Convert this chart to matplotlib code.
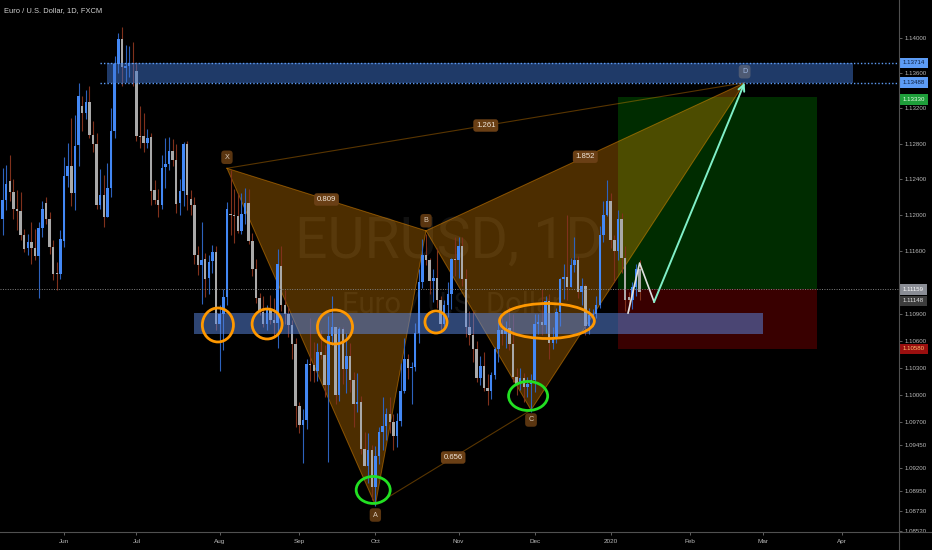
import numpy as np
import pandas as pd
import matplotlib
matplotlib.use('Agg')
import matplotlib.pyplot as plt
from matplotlib.patches import Rectangle, Polygon, Ellipse
from matplotlib.lines import Line2D
from matplotlib.ticker import FixedLocator, NullLocator, FixedFormatter

# ---------------- data ----------------
start_date = '2019-05-09'
holidays = ['2019-12-25', '2020-01-01']

opens = [
 1.1195,1.1217,1.1238,1.1226,1.1207,1.1204,1.1177,1.1163,1.1170,1.1163,1.1154,1.1185,1.1213,1.1195,1.1164,1.1135,1.1134,
 1.1171,1.1244,1.1255,1.1224,1.1278,1.1323,1.1314,1.1327,1.1290,1.1280,1.1211,1.1222,1.1197,1.1230,1.1294,1.1370,1.1399,1.1366,1.1368,1.1371,
 1.1362,1.1289,1.1288,1.1281,1.1287,1.1228,1.1217,1.1211,1.1254,1.1257,1.1272,1.1261,1.1213,1.1227,1.1279,1.1218,1.1211,1.1155,1.1144,1.1151,1.1130,1.1148,1.1158,
 1.1078,1.1089,1.1108,1.1201,1.1200,1.1199,1.1182,1.1201,1.1213,1.1171,1.1140,1.1107,1.1092,1.1078,1.1095,1.1083,1.1080,1.1143,1.1100,1.1089,1.1077,1.1056,
 1.0988,1.0967,1.0973,1.1034,1.1033,1.1027,1.1047,1.1044,1.1011,1.1065,1.1075,1.1000,1.1073,1.1029,1.1043,1.1017,1.0990,1.0993,1.0941,1.0922,1.0940,
 1.0899,1.0933,1.0960,1.0966,1.0979,1.0971,1.0955,1.0972,1.1005,1.1040,1.1030,1.1031,1.1068,1.1125,1.1155,1.1150,1.1126,1.1130,1.1105,1.1079,1.1100,1.1112,1.1151,
 1.1150,1.1165,1.1128,1.1075,1.1066,1.1051,1.1019,1.1032,1.1008,1.1005,1.1022,1.1051,1.1072,1.1067,1.1074,1.1056,1.1020,1.1012,1.1019,1.1009,1.1012,
 1.1017,1.1078,1.1081,1.1077,1.1104,1.1058,1.1064,1.1092,1.1128,1.1131,1.1120,1.1144,1.1150,1.1114,1.1121,1.1076,1.1088,1.1090,1.1100,1.1177,1.1200,
 1.1215,1.1172,1.1160,1.1195,1.1152,1.1108,1.1105,1.1120,1.1139]
highs = [
 1.1253,1.1256,1.1267,1.1240,1.1228,1.1226,1.1184,1.1178,1.1192,1.1184,1.1192,1.1216,1.1220,1.1203,1.1172,1.1147,1.1183,
 1.1265,1.1281,1.1309,1.1312,1.1349,1.1334,1.1340,1.1345,1.1306,1.1292,1.1251,1.1245,1.1258,1.1320,1.1379,1.1405,1.1412,1.1392,1.1390,1.1395,
 1.1372,1.1323,1.1314,1.1297,1.1292,1.1239,1.1229,1.1267,1.1286,1.1287,1.1285,1.1280,1.1240,1.1282,1.1283,1.1228,1.1220,1.1165,1.1192,1.1157,1.1155,1.1166,1.1165,
 1.1100,1.1117,1.1214,1.1250,1.1229,1.1225,1.1224,1.1230,1.1229,1.1180,1.1151,1.1113,1.1110,1.1100,1.1111,1.1107,1.1162,1.1165,1.1116,1.1098,1.1083,1.1063,
 1.0992,1.0985,1.1040,1.1085,1.1059,1.1058,1.1072,1.1055,1.1087,1.1110,1.1075,1.1075,1.1075,1.1068,1.1058,1.1025,1.1024,1.0999,1.0960,1.0958,1.0945,
 1.0944,1.0965,1.0998,1.0986,1.0998,1.0979,1.0980,1.1035,1.1063,1.1045,1.1036,1.1080,1.1139,1.1173,1.1179,1.1152,1.1140,1.1163,1.1110,1.1105,1.1125,1.1152,1.1175,
 1.1175,1.1175,1.1140,1.1093,1.1093,1.1060,1.1043,1.1048,1.1023,1.1025,1.1053,1.1081,1.1090,1.1082,1.1097,1.1090,1.1030,1.1030,1.1024,1.1020,1.1023,
 1.1090,1.1090,1.1117,1.1110,1.1112,1.1075,1.1096,1.1130,1.1145,1.1200,1.1152,1.1175,1.1154,1.1130,1.1123,1.1096,1.1095,1.1110,1.1188,1.1215,1.1239,
 1.1225,1.1177,1.1205,1.1202,1.1165,1.1114,1.1125,1.1145,1.1150]
lows = [
 1.1177,1.1205,1.1215,1.1195,1.1183,1.1172,1.1158,1.1155,1.1145,1.1150,1.1107,1.1175,1.1190,1.1156,1.1127,1.1116,1.1128,
 1.1164,1.1231,1.1210,1.1205,1.1255,1.1294,1.1308,1.1286,1.1271,1.1206,1.1206,1.1186,1.1197,1.1220,1.1286,1.1360,1.1345,1.1350,1.1355,1.1345,
 1.1283,1.1275,1.1271,1.1275,1.1211,1.1212,1.1197,1.1206,1.1230,1.1250,1.1255,1.1202,1.1200,1.1210,1.1205,1.1200,1.1145,1.1133,1.1101,1.1108,1.1112,1.1135,1.1072,
 1.1027,1.1050,1.1100,1.1177,1.1168,1.1180,1.1178,1.1190,1.1167,1.1132,1.1102,1.1088,1.1075,1.1072,1.1078,1.1065,1.1052,1.1093,1.1078,1.1064,1.1040,1.0965,
 1.0958,1.0926,1.0963,1.1016,1.1014,1.1016,1.1040,1.0998,1.0927,1.1055,1.0990,1.0994,1.1012,1.1002,1.1004,1.0965,1.0982,1.0935,1.0922,1.0904,1.0885,
 1.0879,1.0925,1.0940,1.0951,1.0958,1.0940,1.0943,1.0966,1.1002,1.1018,1.0990,1.1027,1.1058,1.1118,1.1144,1.1112,1.1103,1.1096,1.1072,1.1072,1.1086,1.1095,1.1132,
 1.1130,1.1121,1.1064,1.1055,1.1036,1.1014,1.1011,1.1005,1.0989,1.0996,1.1018,1.1036,1.1055,1.1052,1.1050,1.1014,1.1000,1.1006,1.0992,1.0998,1.0981,
 1.1004,1.1067,1.1066,1.1068,1.1040,1.1051,1.1058,1.1076,1.1106,1.1105,1.1120,1.1136,1.1107,1.1100,1.1066,1.1067,1.1076,1.1085,1.1096,1.1170,1.1199,
 1.1163,1.1125,1.1150,1.1135,1.1093,1.1093,1.1095,1.1110,1.1105]
closes = [
 1.1217,1.1235,1.1226,1.1206,1.1204,1.1177,1.1162,1.1170,1.1163,1.1154,1.1185,1.1207,1.1195,1.1164,1.1134,1.1134,1.1173,
 1.1244,1.1255,1.1224,1.1277,1.1334,1.1314,1.1327,1.1290,1.1280,1.1211,1.1222,1.1197,1.1230,1.1294,1.1370,1.1398,1.1367,1.1368,1.1371,1.1370,
 1.1289,1.1287,1.1281,1.1286,1.1227,1.1217,1.1211,1.1253,1.1257,1.1272,1.1261,1.1212,1.1227,1.1279,1.1222,1.1211,1.1155,1.1144,1.1150,1.1128,1.1147,1.1158,1.1078,
 1.1089,1.1108,1.1206,1.1200,1.1199,1.1182,1.1201,1.1213,1.1171,1.1140,1.1107,1.1092,1.1078,1.1095,1.1083,1.1080,1.1145,1.1100,1.1089,1.1077,1.1056,1.0988,
 1.0967,1.0973,1.1034,1.1033,1.1027,1.1047,1.1044,1.1011,1.1065,1.1075,1.1000,1.1073,1.1029,1.1043,1.1017,1.0990,1.0993,1.0941,1.0922,1.0940,1.0899,
 1.0933,1.0960,1.0966,1.0979,1.0971,1.0955,1.0972,1.1005,1.1040,1.1030,1.1031,1.1068,1.1125,1.1155,1.1150,1.1126,1.1130,1.1105,1.1079,1.1100,1.1112,1.1151,1.1150,
 1.1165,1.1128,1.1075,1.1066,1.1051,1.1019,1.1032,1.1008,1.1005,1.1022,1.1051,1.1072,1.1067,1.1074,1.1056,1.1020,1.1012,1.1019,1.1009,1.1012,1.1017,
 1.1078,1.1081,1.1077,1.1104,1.1058,1.1064,1.1092,1.1128,1.1131,1.1120,1.1144,1.1150,1.1114,1.1121,1.1076,1.1088,1.1090,1.1100,1.1177,1.1200,1.1215,
 1.1172,1.1160,1.1195,1.1152,1.1105,1.1105,1.1120,1.1139,1.1114]

# harmonic pattern points
pat_names = ['X', 'A', 'B', 'C', 'D']
pat_dates = ['2019-08-05', '2019-10-01', '2019-10-21', '2019-11-29', '2020-02-24']
pat_prices = [1.12522, 1.08799, 1.11822, 1.09837, 1.13488]
ratio_labels = ['0.809', '1.261', '1.852', '0.656']   # XB, XD, BD, AC

# zones
top_zone = (1.13488, 1.13714)
low_zone = (1.10679, 1.10906)
entry_price, target_price, stop_price = 1.1117, 1.1333, 1.1051

# projected path
path_dates_idx = [172.8, 176.0, 180.0]
path_prices = [1.10906, 1.11462, 1.11029]

# y-axis ticks
ytick_vals = [1.14, 1.136, 1.132, 1.128, 1.124, 1.12, 1.116, 1.109, 1.106, 1.103,
              1.10, 1.097, 1.0945, 1.092, 1.0895, 1.0873, 1.0852]
month_starts = ['2019-06-03', '2019-07-01', '2019-08-01', '2019-09-02', '2019-10-01',
                '2019-11-01', '2019-12-02', '2020-01-02', '2020-02-03', '2020-03-02', '2020-04-01']
month_labels = ['Jun', 'Jul', 'Aug', 'Sep', 'Oct', 'Nov', 'Dec', '2020', 'Feb', 'Mar', 'Apr']

# right-axis price tags: (text, price, face, text colour)
tag_texts = ['1.13714', '1.13488', '1.13330', '1.11159', '1.11148', '1.10580']
tag_prices = [1.13714, 1.13488, 1.1330, 1.1117, 1.11040, 1.1051]

# ---------------- layout ----------------
days = pd.bdate_range(start_date, '2020-04-30')
days = days[~days.isin(pd.to_datetime(holidays))]
pos = {d: i for i, d in enumerate(days)}
def xi(s):
    return pos[pd.Timestamp(s)]

FW, FH = 932, 550
AX_W, AX_H = 899, 532
PX0, DX = 2.5, 3.62

fig = plt.figure(figsize=(FW/100, FH/100), dpi=100, facecolor='black')
ax = fig.add_axes([0, (FH-AX_H)/FH, AX_W/FW, AX_H/FH])
ax.set_facecolor('black')
ax.set_yscale('log')
ax.set_xlim(-PX0/DX, (AX_W-PX0)/DX)
ax.set_ylim(1.08506, 1.14430)
for s in ax.spines.values():
    s.set_visible(False)

# watermark
ax.text(449/AX_W, 1-258/AX_H, 'EURUSD, 1D', transform=ax.transAxes, ha='center', va='baseline',
        fontsize=41, family='Roboto', color='white', alpha=0.07, zorder=0.5)
ax.text(452/AX_W, 1-313/AX_H, 'Euro / U.S. Dollar', transform=ax.transAxes, ha='center', va='baseline',
        fontsize=21, family='Roboto', color='white', alpha=0.07, zorder=0.5)

# long position box
e0, e1 = xi('2020-01-06'), xi('2020-03-23')
ax.add_patch(Rectangle((e0, entry_price), e1-e0, target_price-entry_price, fc='#00b000', alpha=0.25, ec='none', zorder=0.8))
ax.add_patch(Rectangle((e0, stop_price), e1-e0, entry_price-stop_price, fc='#e00000', alpha=0.26, ec='none', zorder=0.8))

# harmonic pattern
px = [xi(d) for d in pat_dates]
pp = pat_prices
ax.add_patch(Polygon([(px[0], pp[0]), (px[1], pp[1]), (px[2], pp[2])], closed=True,
                     fc='#ff9800', alpha=0.3, ec='none', zorder=1))
ax.add_patch(Polygon([(px[2], pp[2]), (px[3], pp[3]), (px[4], pp[4])], closed=True,
                     fc='#ff9800', alpha=0.3, ec='none', zorder=1))
ax.plot([px[0], px[1], px[2], px[0]], [pp[0], pp[1], pp[2], pp[0]], color='#ff9800', alpha=0.45, lw=0.7, zorder=1.1)
ax.plot([px[2], px[3], px[4], px[2]], [pp[2], pp[3], pp[4], pp[2]], color='#ff9800', alpha=0.45, lw=0.7, zorder=1.1)
ax.plot([px[0], px[4]], [pp[0], pp[4]], color='#ff9800', alpha=0.35, lw=0.8, zorder=1.1)
ax.plot([px[1], px[3]], [pp[1], pp[3]], color='#ff9800', alpha=0.35, lw=0.8, zorder=1.1)

# candles
o, h, l, c = map(np.array, (opens, highs, lows, closes))
xs = np.arange(len(o))
up = c >= o
ax.vlines(xs, l, h, colors=np.where(up, '#2d62bd', '#80311c'), lw=0.8, zorder=3)
bh = np.maximum(np.abs(c-o), 0.00005)
ax.bar(xs, bh, bottom=np.minimum(o, c), width=0.68, color=np.where(up, '#4388f5', '#a9a9a9'),
       linewidth=0, zorder=4)

# zones
z0, z1 = xi('2019-06-19'), xi('2020-04-06')
ax.add_patch(Rectangle((z0, top_zone[0]), z1-z0, top_zone[1]-top_zone[0], fc='#3f74d0', alpha=0.5, ec='none', zorder=5))
for yv in top_zone:
    ax.plot([xi('2019-06-17'), ax.get_xlim()[1]], [yv, yv], color='#5d9cf5', lw=1.0,
            ls=(0, (1, 1.5)), zorder=5.1)
l0, l1 = xi('2019-07-23'), xi('2020-03-02')
ax.add_patch(Rectangle((l0, low_zone[0]), l1-l0, low_zone[1]-low_zone[0], fc='#5c8ae6', alpha=0.5, ec='none', zorder=5))

# current price line
ax.axhline(entry_price, color='#808080', lw=0.7, ls=(0, (1, 1.5)), zorder=5)

# projected path
ax.plot(path_dates_idx, path_prices, color='#e0e0e0', lw=1.2, zorder=6)
ax.annotate('', xy=(px[4], pp[4]), xytext=(path_dates_idx[-1], path_prices[-1]),
            arrowprops=dict(arrowstyle='->,head_length=0.45,head_width=0.22', color='#80f0c8', lw=1.4,
                            shrinkA=0, shrinkB=0), zorder=6)

# hand-drawn ellipses (center idx, center price, width bars, height price, colour)
ellipses = [
    (59.5, 1.10774, 8.6, 0.00376, '#ff9800'),
    (73.1, 1.10785, 8.3, 0.00332, '#ff9800'),
    (91.85, 1.10752, 9.7, 0.00376, '#ff9800'),
    (119.75, 1.10807, 6.1, 0.00244, '#ff9800'),
    (150.4, 1.10818, 26.2, 0.00388, '#ff9800'),
    (102.4, 1.08963, 9.4, 0.00294, '#22e022'),
    (145.2, 1.09991, 10.8, 0.00319, '#22e022'),
]
for ex, ey, ew, eh, ec in ellipses:
    ax.add_patch(Ellipse((ex, ey), ew, eh, fill=False, ec=ec, lw=2.0, zorder=7))

# point labels
offs = {'X': 11, 'A': -10, 'B': 10, 'C': -10, 'D': 11}
for n, x_, p_ in zip(pat_names, px, pp):
    fc = '#4e5a73' if n == 'D' else '#5a3510'
    tc = '#9ab4e0' if n == 'D' else '#d9c9b9'
    ax.annotate(n, xy=(x_, p_), xytext=(0, offs[n]*0.72), textcoords='offset points',
                ha='center', va='center', fontsize=5.2, color=tc, family='Liberation Sans',
                bbox=dict(boxstyle='round,pad=0.45', fc=fc, ec='none'), zorder=8)

# ratio labels at segment midpoints
pairs = [(0, 2), (0, 4), (2, 4), (1, 3)]
for txt, (i, j) in zip(ratio_labels, pairs):
    mx = (px[i] + px[j]) / 2
    my = np.sqrt(pp[i] * pp[j])
    ax.text(mx, my, txt, ha='center', va='center', fontsize=5.6, color='#efe4d8',
            family='Liberation Sans', zorder=8,
            bbox=dict(boxstyle='round,pad=0.35', fc='#6a3f15', ec='none'))

# axes ticks
ax.yaxis.set_ticks_position('right')
ax.yaxis.set_major_locator(FixedLocator(ytick_vals))
ax.yaxis.set_major_formatter(FixedFormatter([f'{v:.5f}' for v in ytick_vals]))
ax.yaxis.set_minor_locator(NullLocator())
ax.tick_params(axis='y', which='major', direction='out', length=2.2, width=0.6, color='#707070',
               labelcolor='#b8b8b8', labelsize=4.4, pad=1.5)
ax.set_xticks([xi(d) for d in month_starts])
ax.set_xticklabels(month_labels)
ax.tick_params(axis='x', direction='out', length=2.2, width=0.6, color='#707070',
               labelcolor='#b8b8b8', labelsize=4.6, pad=2.5)
for lab in ax.get_xticklabels() + ax.get_yticklabels():
    lab.set_family('Liberation Sans')

# price tags on axis
tag_faces = ['#5d9cf5', '#5d9cf5', '#1e9e3a', '#8a8d95', '#3c3c3c', '#9a0f0f']
tag_tcols = ['#0c1e3c', '#0c1e3c', '#e8ffe8', '#ffffff', '#e0e0e0', '#ffc070']
for t, pr, fc, tc in zip(tag_texts, tag_prices, tag_faces, tag_tcols):
    ax.text(903/AX_W, pr, t, transform=ax.get_yaxis_transform(), ha='left', va='center',
            fontsize=4.4, color=tc, family='Liberation Sans', clip_on=False, zorder=10,
            bbox=dict(boxstyle='square,pad=0.45', fc=fc, ec='none'))

# axis lines
fig.add_artist(Line2D([0, 1], [(FH-AX_H)/FH]*2, color='#505050', lw=0.8))
fig.add_artist(Line2D([AX_W/FW]*2, [0, 1], color='#505050', lw=0.8))

# title
fig.text(4/FW, 1-11/FH, 'Euro / U.S. Dollar, 1D, FXCM', color='#d0d0d0', fontsize=5.4,
         va='center', ha='left', family='Liberation Sans')

fig.savefig('out.png', dpi=100, facecolor='black')
